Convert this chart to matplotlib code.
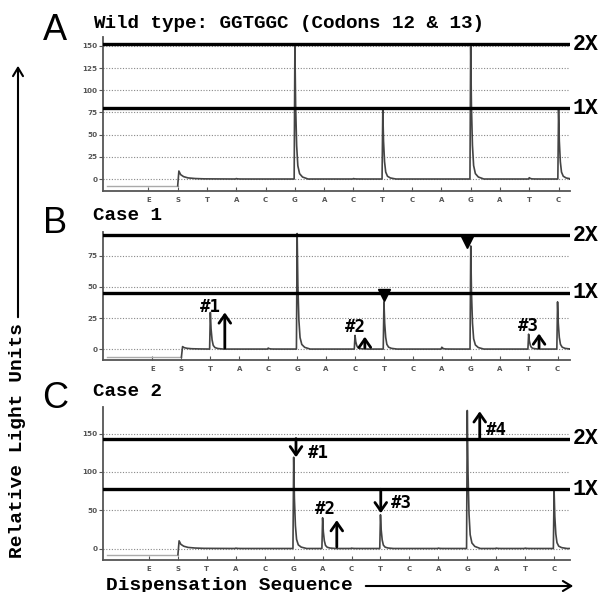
import matplotlib.pyplot as plt
import numpy as np

# dispensation order, positions 1..15
dispensation = ['E', 'S', 'T', 'A', 'C', 'G', 'A', 'C', 'T', 'C', 'A', 'G', 'A', 'T', 'C']
positions = np.arange(1, 16)

# peak heights (relative light units) for each dispensation
wild_type = [0, 9, 0, 0.5, 0, 150, 0, 0.5, 78, 0, 0, 152, 0, 1.5, 78]
case1 = [0, 2, 29.5, 0, 0.8, 93, 0, 11, 38, 0, 1.5, 83, 0, 12, 38]
case2 = [0, 10, 0, 0.5, 0, 119, 40, 0.5, 44, 0, 0.5, 180, 0.5, 0.5, 76]

pre_baseline = [-7.5, -6.4, -7.9]
level_1x = [80, 45.5, 77.3]
level_2x = [151.6, 91.5, 143.4]

titles = ['Wild type: GGTGGC (Codons 12 & 13)', 'Case 1', 'Case 2']
letters = ['A', 'B', 'C']
yticks = [[0, 25, 50, 75, 100, 125, 150], [0, 25, 50, 75], [0, 50, 100, 150]]

# arrows: (x, y_from, y_to, label, label_x, label_y)
arrows1 = [(3.5, 0.8, 29.5, '#1', 2.99, 34),
           (8.34, 1, 10, '#2', 8.02, 18),
           (14.36, 1, 12.5, '#3', 14.0, 18.3)]
arrows2 = [(6.08, 143.4, 119, '#1', 6.84, 124),
           (7.49, 2, 37, '#2', 7.1, 51),
           (9.01, 77.3, 46, '#3', 9.72, 59),
           (12.43, 143.4, 179, '#4', 13.02, 154)]
triangles1 = [(9.0, 43.3), (11.86, 86)]

# layout (figure pixels)
W, H = 600, 592
ax_left, ax_right = 103, 570
panel_tb = [(37, 191), (231.7, 360), (406.7, 560)]
xlims = [(-0.55, 15.39), (-0.71, 15.43), (-0.59, 15.55)]
ylims = [(-13.5, 160), (-8.8, 94.5), (-15, 185)]
title_y = [23, 215, 392]
letter_y = [31, 223, 399]

# peak shape (style of the trace line)
shape_dx = [-0.025, 0, 0.025, 0.06, 0.1, 0.16, 0.26, 0.45]
shape_f = [0, 1, 0.55, 0.25, 0.1, 0.04, 0.015, 0]
s_dx = [0, 0.04, 0.1, 0.2, 0.35, 0.6, 0.9]
s_f = [None, 1, 0.55, 0.3, 0.14, 0.06, 0.02]


def build_trace(heights, pre, xmax):
    xs, ys = [], []
    s_h = heights[1]
    for dx, f in zip(s_dx, s_f):
        xs.append(2 + dx)
        ys.append(pre if f is None else s_h * f)
    for p, h in zip(positions[2:], heights[2:]):
        if h <= 0:
            continue
        for dx, f in zip(shape_dx, shape_f):
            xs.append(p + dx)
            ys.append(h * f)
    xs.append(xmax)
    ys.append(0)
    return xs, ys


mono = 'Liberation Mono'
fig = plt.figure(figsize=(6, 5.92), dpi=100)

data = [wild_type, case1, case2]
for i in range(3):
    top, bot = panel_tb[i]
    ax = fig.add_axes([ax_left / W, 1 - bot / H, (ax_right - ax_left) / W, (bot - top) / H])
    ax.set_xlim(*xlims[i])
    ax.set_ylim(*ylims[i])
    for s in ['top', 'right']:
        ax.spines[s].set_visible(False)
    for s in ['left', 'bottom']:
        ax.spines[s].set_color('#555')
        ax.spines[s].set_linewidth(1.3)

    ax.set_yticks(yticks[i])
    ax.set_yticklabels([str(v) for v in yticks[i]], fontweight='bold')
    ax.set_xticks(positions)
    ax.set_xticklabels(dispensation, fontweight='bold')
    ax.tick_params(axis='y', length=3, width=0.8, colors='#555', labelsize=5.2, pad=1)
    ax.tick_params(axis='x', direction='in', length=3, width=0.8, colors='#555', labelsize=5, pad=4)
    ax.yaxis.grid(True, linestyle=(0, (1, 1.5)), color='#888', linewidth=0.8)
    ax.set_axisbelow(True)

    x0 = xlims[i][0] + 0.15
    ax.plot([x0, 2], [pre_baseline[i]] * 2, color='#aaa', lw=1)
    xs, ys = build_trace(data[i], pre_baseline[i], xlims[i][1])
    ax.plot(xs, ys, color='#444', lw=1.2)

    for lvl, lab in [(level_2x[i], '2X'), (level_1x[i], '1X')]:
        ax.axhline(lvl, color='black', lw=2.4, zorder=4)
        ax.text(1.005, lvl, lab, transform=ax.get_yaxis_transform(), ha='left', va='center',
                fontsize=15.5, fontweight='bold', family=mono, clip_on=False)

    arrows = [[], arrows1, arrows2][i]
    for x, y0, y1, lab, lx, ly in arrows:
        ax.annotate('', xy=(x, y1), xytext=(x, y0),
                    arrowprops=dict(arrowstyle='->, head_length=0.5, head_width=0.35',
                                    lw=2, color='black', shrinkA=0, shrinkB=0,
                                    mutation_scale=12), zorder=5)
        ax.text(lx, ly, lab, ha='center', va='center', fontsize=12.5,
                fontweight='bold', family='DejaVu Sans Mono', zorder=6)
    if i == 1:
        for tx, ty in triangles1:
            ax.plot(tx, ty, marker='v', color='black', ms=9, zorder=6)

    fig.text(92.7 / W, 1 - title_y[i] / H, titles[i], ha='left', va='center',
             fontsize=13.9, fontweight='bold', family=mono)
    fig.text(55 / W, 1 - letter_y[i] / H, letters[i], ha='center', va='center',
             fontsize=26, family='Liberation Sans')

# axis captions
fig.text(18 / W, 1 - 558 / H, 'Relative Light Units', rotation=90, ha='center', va='bottom',
         fontsize=14, fontweight='bold', family=mono)
fig.text(106 / W, 1 - 585 / H, 'Dispensation Sequence', ha='left', va='center',
         fontsize=14, fontweight='bold', family=mono)
fig.add_artist(plt.matplotlib.patches.FancyArrowPatch(
    (18 / W, 1 - 320 / H), (18 / W, 1 - 63 / H), transform=fig.transFigure,
    arrowstyle='->, head_length=0.5, head_width=0.3', mutation_scale=12, lw=1.5, color='black'))
fig.add_artist(plt.matplotlib.patches.FancyArrowPatch(
    (363 / W, 1 - 586 / H), (576 / W, 1 - 586 / H), transform=fig.transFigure,
    arrowstyle='->, head_length=0.5, head_width=0.3', mutation_scale=12, lw=1.5, color='black'))

fig.savefig('out.png', dpi=100)
